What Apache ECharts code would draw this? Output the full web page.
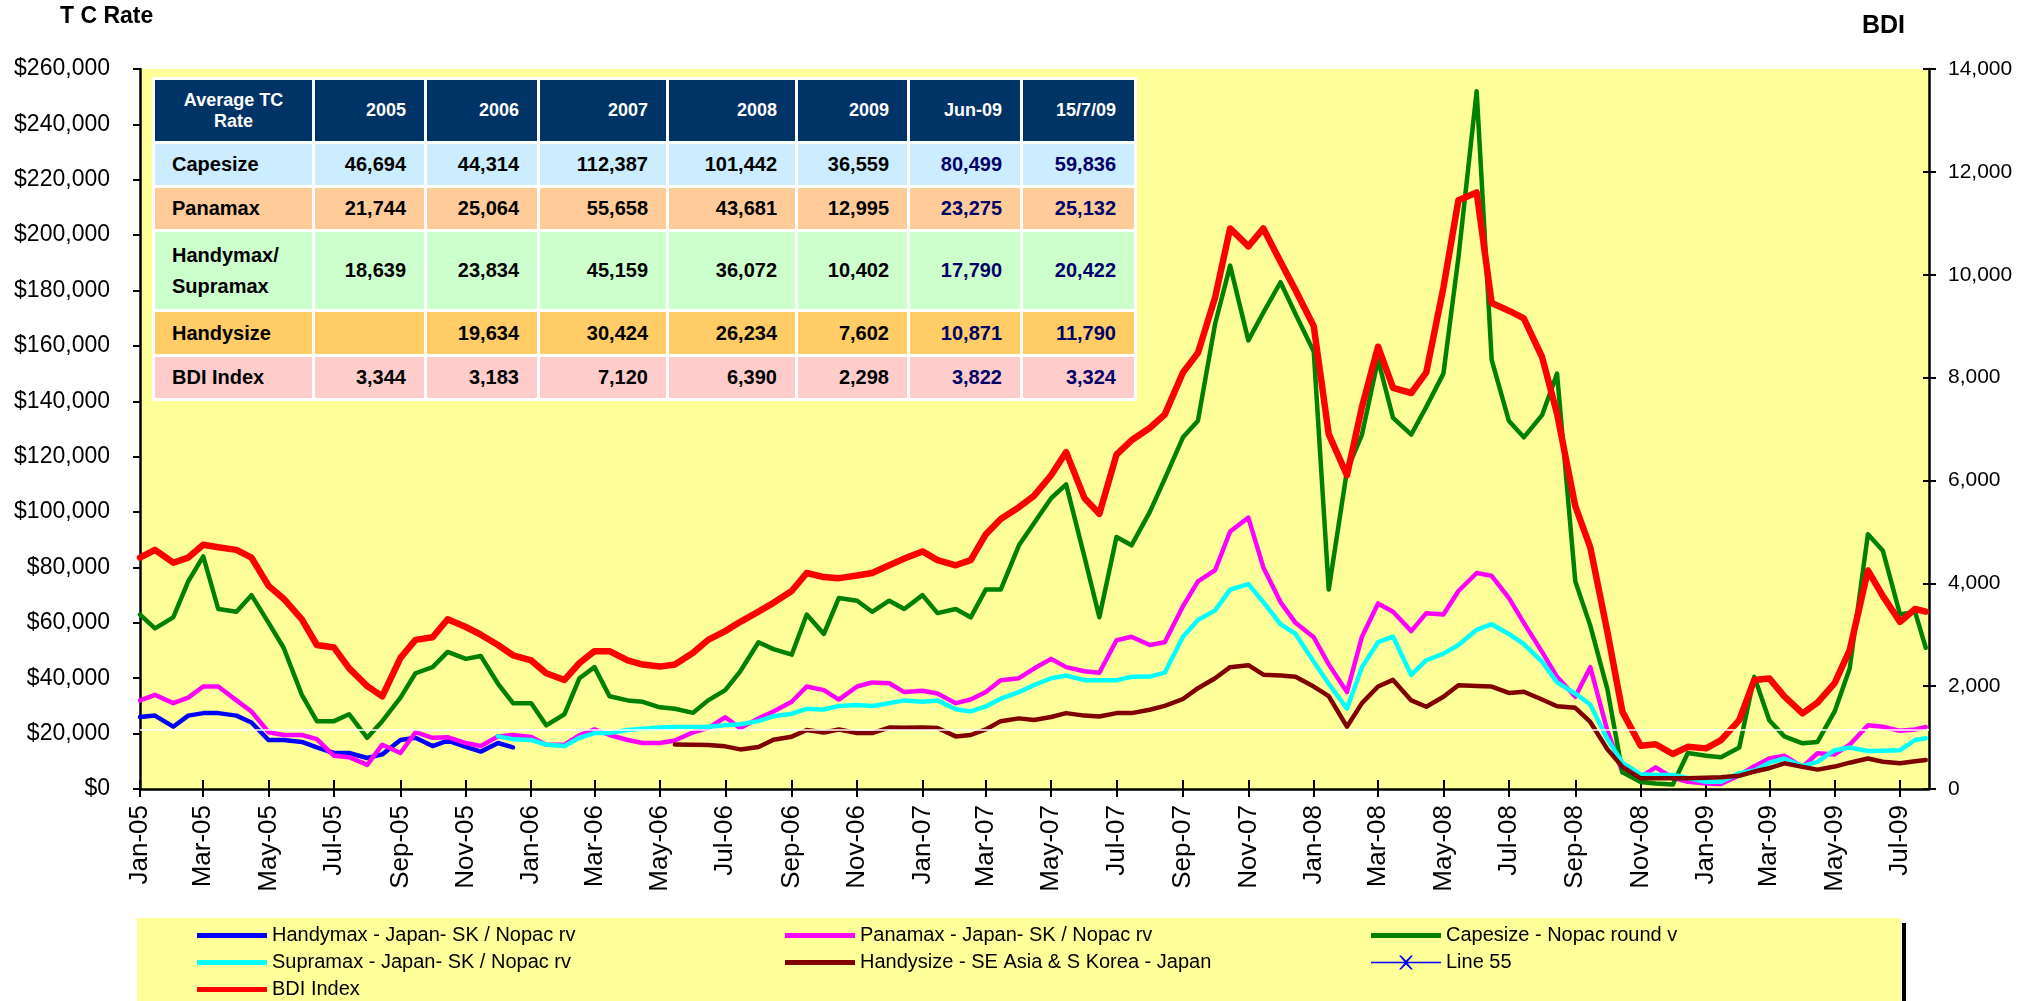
<!DOCTYPE html>
<html>
<head>
<meta charset="utf-8">
<title>TC Rate / BDI</title>
<script src="https://cdn.jsdelivr.net/npm/echarts@6.0.0/dist/echarts.min.js"></script>
<style>
body { margin: 0; background: #fff; }
#wrap { position: relative; width: 2028px; height: 1001px; overflow: hidden; }
#chart { width: 2028px; height: 1001px; }
#avgTable {
  position: absolute; left: 152px; top: 77px; width: 985px;
  border-collapse: separate; border-spacing: 3px; background: #fff;
  table-layout: fixed; font-family: 'Liberation Sans', Arial, sans-serif; font-weight: bold;
}
#avgTable td {
  box-sizing: border-box; padding: 0 18px 0 0; text-align: right;
  font-size: 20px; color: #000; vertical-align: middle; white-space: nowrap;
}
#avgTable tr.head td { background: #003366; color: #fff; font-size: 18px; }
#avgTable td.name { text-align: left; padding: 0 0 0 17px; line-height: 31px; }
#avgTable tr.head td.name { text-align: center; padding: 0; line-height: 21px; }
#avgTable td.recent { color: #000066; }
</style>
</head>
<body>
<div id="wrap">
  <div id="chart"></div>
  <table id="avgTable"></table>
</div>
<script>
// half-month sample dates
const dates = [
  '2005-01-01','2005-01-15','2005-02-01','2005-02-15','2005-03-01','2005-03-15','2005-04-01','2005-04-15',
  '2005-05-01','2005-05-15','2005-06-01','2005-06-15','2005-07-01','2005-07-15','2005-08-01','2005-08-15',
  '2005-09-01','2005-09-15','2005-10-01','2005-10-15','2005-11-01','2005-11-15','2005-12-01','2005-12-15',
  '2006-01-01','2006-01-15','2006-02-01','2006-02-15','2006-03-01','2006-03-15','2006-04-01','2006-04-15',
  '2006-05-01','2006-05-15','2006-06-01','2006-06-15','2006-07-01','2006-07-15','2006-08-01','2006-08-15',
  '2006-09-01','2006-09-15','2006-10-01','2006-10-15','2006-11-01','2006-11-15','2006-12-01','2006-12-15',
  '2007-01-01','2007-01-15','2007-02-01','2007-02-15','2007-03-01','2007-03-15','2007-04-01','2007-04-15',
  '2007-05-01','2007-05-15','2007-06-01','2007-06-15','2007-07-01','2007-07-15','2007-08-01','2007-08-15',
  '2007-09-01','2007-09-15','2007-10-01','2007-10-15','2007-11-01','2007-11-15','2007-12-01','2007-12-15',
  '2008-01-01','2008-01-15','2008-02-01','2008-02-15','2008-03-01','2008-03-15','2008-04-01','2008-04-15',
  '2008-05-01','2008-05-15','2008-06-01','2008-06-15','2008-07-01','2008-07-15','2008-08-01','2008-08-15',
  '2008-09-01','2008-09-15','2008-10-01','2008-10-15','2008-11-01','2008-11-15','2008-12-01','2008-12-15',
  '2009-01-01','2009-01-15','2009-02-01','2009-02-15','2009-03-01','2009-03-15','2009-04-01','2009-04-15',
  '2009-05-01','2009-05-15','2009-06-01','2009-06-15','2009-07-01','2009-07-15','2009-07-25'
];

// Handymax - Japan-SK / Nopac rv (2005 only)
const handymax = [
  26000, 26500, 22500, 26500, 27400, 27400, 26500, 24000, 17670, 17670, 17000, 15000,
  13000, 13000, 11200, 12500, 17700, 18500, 15500, 17500, 15200, 13500, 16600, 15000,
  null, null, null, null, null, null, null, null, null, null, null, null, null, null, null, null, null, null, null, null, null, null, null, null,
  null, null, null, null, null, null, null, null, null, null, null, null, null, null, null, null, null, null, null, null, null, null, null, null,
  null, null, null, null, null, null, null, null, null, null, null, null, null, null, null, null, null, null, null, null, null, null, null, null,
  null, null, null, null, null, null, null, null, null, null, null, null, null, null, null
];

// Panamax - Japan-SK / Nopac rv
const panamax = [
  32000, 34000, 31000, 33000, 37000, 37000, 32000, 28000, 20500, 19500, 19500, 18000,
  12000, 11500, 8700, 16000, 13000, 20500, 18500, 18700, 16600, 15500, 19000, 19500,
  18800, 16000, 16000, 19400, 21500, 19500, 17700, 16600, 16600, 17500, 20500, 22000,
  25900, 22000, 25500, 28000, 31500, 37000, 35700, 32300, 37000, 38500, 38200, 35000,
  35500, 34500, 31000, 32300, 35000, 39300, 40000, 43500, 47000, 44000, 42500, 42000,
  53700, 55000, 52000, 53000, 66000, 75000, 79000, 93000, 98000, 80000, 67500, 60000,
  54800, 45000, 35000, 55000, 67000, 64000, 57000, 63500, 63000, 71500, 78000, 77000,
  69000, 60000, 49500, 40500, 33300, 44000, 21000, 6000, 4400, 7800, 4000, 2600,
  2000, 1800, 5000, 8200, 11000, 12000, 8000, 12900, 12500, 16000, 23000, 22500,
  21000, 21500, 22400
];

// Capesize - Nopac round voyage
const capesize = [
  63000, 58000, 62000, 75000, 84000, 65000, 64000, 70000, 60000, 51000, 34000, 24500,
  24500, 27000, 18500, 24500, 33000, 41800, 44000, 49500, 47000, 48000, 38000, 31000,
  31000, 23000, 27000, 40000, 44000, 33500, 32000, 31500, 29500, 29000, 27500, 32000,
  35700, 42500, 53000, 50500, 48500, 63000, 56000, 69000, 68000, 64000, 68000, 65000,
  70000, 63500, 65000, 62000, 72000, 72000, 88000, 96000, 105000, 110000, 84000, 62000,
  91000, 88000, 100000, 112000, 127000, 133000, 168000, 189000, 162000, 172000, 183000, 171500,
  158000, 72000, 115000, 128000, 155000, 134000, 128000, 138000, 150000, 192000, 252000, 155000,
  133000, 127000, 135000, 150000, 75000, 59000, 36000, 6000, 2500, 2000, 1600, 13000,
  12000, 11500, 15000, 40500, 24800, 19000, 16500, 17000, 28000, 43500, 92000, 86000,
  63000, 64000, 51000
];

// Supramax - Japan-SK / Nopac rv (from Dec-05)
const supramax = [
  null, null, null, null, null, null, null, null, null, null, null, null,
  null, null, null, null, null, null, null, null, null, null, 19000, 18000,
  17700, 16000, 15500, 18500, 20200, 20200, 21300, 21800, 22200, 22400, 22400, 22500,
  23000, 23400, 24500, 26300, 27200, 28900, 28700, 30000, 30300, 30000, 31000, 32000,
  31500, 32000, 28800, 28000, 29800, 32600, 35000, 37500, 40000, 41000, 39300, 39300,
  39300, 40500, 40600, 42000, 55000, 61000, 64500, 72000, 74000, 67500, 59500, 56000,
  46000, 38000, 29000, 44000, 53000, 55000, 41200, 46500, 48900, 52000, 57500, 59500,
  56000, 52300, 46000, 38500, 34500, 30500, 18000, 9500, 5300, 5050, 5050, 4000,
  2630, 2630, 5660, 6700, 9500, 11000, 8300, 9800, 14000, 15000, 13700, 13800,
  14000, 17700, 18300
];

// Handysize - SE Asia & S Korea - Japan (from May-06)
const handysize = [
  null, null, null, null, null, null, null, null, null, null, null, null,
  null, null, null, null, null, null, null, null, null, null, null, null,
  null, null, null, null, null, null, null, null, null, 16100, 16000, 15900,
  15400, 14300, 15200, 17800, 18900, 21300, 20400, 21500, 20200, 20200, 22200, 22100,
  22200, 22000, 19000, 19500, 21500, 24500, 25500, 24900, 26000, 27400, 26500, 26200,
  27400, 27400, 28600, 30000, 32500, 36400, 40000, 44000, 44700, 41300, 41000, 40500,
  37000, 33500, 22500, 31000, 37000, 39400, 32000, 29700, 33300, 37500, 37200, 37000,
  34700, 35100, 32300, 29900, 29300, 24200, 14300, 8000, 3850, 3850, 3850, 3850,
  4100, 4250, 4800, 6300, 7500, 9270, 8000, 7000, 8100, 9500, 11000, 9860,
  9270, 10000, 10460
];

// Baltic Dry Index (right axis)
const bdi = [
  4500, 4650, 4400, 4500, 4750, 4700, 4650, 4500, 3950, 3700, 3300, 2800,
  2750, 2350, 2000, 1800, 2550, 2900, 2950, 3300, 3150, 3000, 2800, 2600,
  2500, 2250, 2120, 2450, 2680, 2680, 2500, 2420, 2380, 2420, 2650, 2900,
  3070, 3250, 3450, 3620, 3850, 4200, 4120, 4100, 4150, 4200, 4350, 4480,
  4620, 4450, 4350, 4450, 4950, 5250, 5480, 5700, 6100, 6550, 5660, 5350,
  6500, 6780, 7020, 7280, 8100, 8480, 9560, 10900, 10550, 10900, 10250, 9700,
  9000, 6900, 6100, 7430, 8600, 7800, 7700, 8100, 9750, 11450, 11600, 9450,
  9300, 9150, 8400, 7300, 5500, 4700, 3050, 1500, 840, 870, 680, 820,
  790, 950, 1340, 2120, 2150, 1800, 1470, 1680, 2060, 2700, 4250, 3750,
  3250, 3500, 3450
];

const line55 = [];   // legend entry only

const refLineValue = 21300;   // thin white line across the plot

const tickDates = [
  '2005-01-01','2005-03-01','2005-05-01','2005-07-01','2005-09-01','2005-11-01',
  '2006-01-01','2006-03-01','2006-05-01','2006-07-01','2006-09-01','2006-11-01',
  '2007-01-01','2007-03-01','2007-05-01','2007-07-01','2007-09-01','2007-11-01',
  '2008-01-01','2008-03-01','2008-05-01','2008-07-01','2008-09-01','2008-11-01',
  '2009-01-01','2009-03-01','2009-05-01','2009-07-01'
];
const tickLabels = [
  'Jan-05','Mar-05','May-05','Jul-05','Sep-05','Nov-05',
  'Jan-06','Mar-06','May-06','Jul-06','Sep-06','Nov-06',
  'Jan-07','Mar-07','May-07','Jul-07','Sep-07','Nov-07',
  'Jan-08','Mar-08','May-08','Jul-08','Sep-08','Nov-08',
  'Jan-09','Mar-09','May-09','Jul-09'
];

// table of averages
const tableCols = ['2005', '2006', '2007', '2008', '2009', 'Jun-09', '15/7/09'];
const tableRows = ['Capesize', 'Panamax', 'Handymax/\nSupramax', 'Handysize', 'BDI Index'];
const capeAvg = [46694, 44314, 112387, 101442, 36559, 80499, 59836];
const panaAvg = [21744, 25064, 55658, 43681, 12995, 23275, 25132];
const handymaxAvg = [18639, 23834, 45159, 36072, 10402, 17790, 20422];
const handysizeAvg = [null, 19634, 30424, 26234, 7602, 10871, 11790];
const bdiAvg = [3344, 3183, 7120, 6390, 2298, 3822, 3324];

// ---- table ----
const rowColors = ['#CCECFF', '#FFCC99', '#CCFFCC', '#FFCC66', '#FFCCCC'];
const rowHeights = [41, 41, 77, 42, 41];
const colWidths = [157, 109, 110, 126, 126, 109, 110, 111];
const tableVals = [capeAvg, panaAvg, handymaxAvg, handysizeAvg, bdiAvg];

let html = '<colgroup>' + colWidths.map(w => `<col style="width:${w}px">`).join('') + '</colgroup>';
html += '<tr class="head" style="height:61px"><td class="name">Average TC<br>Rate</td>' +
  tableCols.map(c => `<td>${c}</td>`).join('') + '</tr>';
tableRows.forEach((name, r) => {
  html += `<tr style="height:${rowHeights[r]}px">`;
  html += `<td class="name" style="background:${rowColors[r]}">${name.replace('\n', '<br>')}</td>`;
  tableVals[r].forEach((v, c) => {
    const cls = c >= 5 ? ' class="recent"' : '';
    const txt = v == null ? '' : v.toLocaleString('en-US');
    html += `<td${cls} style="background:${rowColors[r]}">${txt}</td>`;
  });
  html += '</tr>';
});
document.getElementById('avgTable').innerHTML = html;

// ---- chart ----
const toTime = s => {
  const [y, m, d] = s.split('-').map(Number);
  return new Date(y, m - 1, d).getTime();
};
const times = dates.map(toTime);
const tickTimes = tickDates.map(toTime);
const pairs = arr => times.map((t, i) => [t, arr[i]]);
const xMin = toTime('2005-01-01');
const xMax = toTime('2009-07-28');

const font = "'Liberation Sans', Arial, sans-serif";
const legendBase = {
  orient: 'vertical', top: 925, itemWidth: 70, itemHeight: 5, itemGap: 6,
  padding: 0, selectedMode: false, icon: 'rect',
  textStyle: { fontFamily: font, fontSize: 20, color: '#000', lineHeight: 21 }
};

const lineSeries = (name, data, color, width, axis) => ({
  name: name, type: 'line', yAxisIndex: axis || 0,
  data: pairs(data), symbol: 'none', showSymbol: false, connectNulls: false,
  lineStyle: { color: color, width: width, cap: 'round', join: 'round' },
  itemStyle: { color: color }, emphasis: { disabled: true }
});

const names = {
  handymax: 'Handymax - Japan- SK / Nopac rv',
  panamax: 'Panamax - Japan- SK / Nopac rv',
  cape: 'Capesize - Nopac round v',
  supramax: 'Supramax - Japan- SK / Nopac rv',
  handysize: 'Handysize - SE Asia & S Korea - Japan',
  line55: 'Line 55',
  bdi: 'BDI Index'
};

const handymaxSeries = lineSeries(names.handymax, handymax, '#0000FF', 4.5);
handymaxSeries.markLine = {
  silent: true, symbol: 'none', label: { show: false },
  lineStyle: { color: '#FFFFFF', width: 1.5, type: 'solid' },
  data: [{ yAxis: refLineValue }]
};

// thin line with an x marker, drawn in a 70x14 box
const line55Icon = 'path://M0,6.3L70,6.3L70,7.7L0,7.7Z' +
  'M28,0L30,0L35,5L40,0L42,0L36,7L42,14L40,14L35,9L30,14L28,14L34,7Z';

const chart = echarts.init(document.getElementById('chart'), null, { renderer: 'canvas' });
chart.setOption({
  animation: false,
  backgroundColor: '#FFFFFF',
  title: [
    { text: 'T C Rate', left: 60, top: 5, padding: 0,
      textStyle: { fontFamily: font, fontSize: 23, fontWeight: 'bold', color: '#000' } },
    { text: 'BDI', left: 1862, top: 14, padding: 0,
      textStyle: { fontFamily: font, fontSize: 25, fontWeight: 'bold', color: '#000' } }
  ],
  grid: { left: 140, right: 99, top: 69, bottom: 212, show: true, backgroundColor: '#FFFF99', borderWidth: 0 },
  graphic: [
    { type: 'rect', z: 0, silent: true, shape: { x: 137, y: 918, width: 1764, height: 90 }, style: { fill: '#FFFF99' } },
    { type: 'rect', z: 0, silent: true, shape: { x: 1902, y: 923, width: 4, height: 80 }, style: { fill: '#000' } }
  ],
  legend: [
    Object.assign({}, legendBase, { left: 197, data: [names.handymax, names.supramax, names.bdi] }),
    Object.assign({}, legendBase, { left: 785, data: [names.panamax, names.handysize] }),
    Object.assign({}, legendBase, { left: 1371, data: [names.cape] }),
    Object.assign({}, legendBase, { left: 1371, top: 952, itemHeight: 14, icon: line55Icon, data: [names.line55] })
  ],
  xAxis: [
    {
      type: 'value', min: xMin, max: xMax,
      axisLine: { onZero: false, lineStyle: { color: '#000', width: 2.5 } },
      axisTick: { show: true, length: 8, customValues: tickTimes, lineStyle: { color: '#000', width: 2 } },
      axisLabel: {
        customValues: tickTimes, rotate: 90, margin: 16, fontSize: 26, color: '#000', fontFamily: font,
        hideOverlap: false,
        formatter: v => { const i = tickTimes.indexOf(v); return i >= 0 ? tickLabels[i] : ''; }
      },
      splitLine: { show: false }
    },
    {
      type: 'value', position: 'bottom', offset: 0, min: xMin, max: xMax,
      axisLine: { show: false },
      axisTick: { show: true, inside: true, length: 9, customValues: tickTimes, lineStyle: { color: '#000', width: 2 } },
      axisLabel: { show: false }, splitLine: { show: false }
    }
  ],
  yAxis: [
    {
      type: 'value', position: 'left', min: 0, max: 260000, interval: 20000,
      axisLine: { show: true, onZero: false, lineStyle: { color: '#000', width: 2.5 } },
      axisTick: { show: true, length: 7, lineStyle: { color: '#000', width: 2 } },
      axisLabel: { margin: 30, fontSize: 23, color: '#000', fontFamily: font,
        formatter: v => '$' + v.toLocaleString('en-US') },
      splitLine: { show: false }
    },
    {
      type: 'value', position: 'right', min: 0, max: 14000, interval: 2000,
      axisLine: { show: true, onZero: false, lineStyle: { color: '#000', width: 2.5 } },
      axisTick: { show: true, length: 7, lineStyle: { color: '#000', width: 2 } },
      axisLabel: { margin: 19, fontSize: 21, color: '#000', fontFamily: font },
      splitLine: { show: false }
    },
    {
      type: 'value', position: 'right', offset: 0, min: 0, max: 14000, interval: 2000,
      axisLine: { show: false },
      axisTick: { show: true, inside: true, length: 6, lineStyle: { color: '#000', width: 2 } },
      axisLabel: { show: false }, splitLine: { show: false }
    }
  ],
  series: [
    handymaxSeries,
    lineSeries(names.panamax, panamax, '#FF00FF', 4.5),
    lineSeries(names.cape, capesize, '#008000', 4.5),
    lineSeries(names.supramax, supramax, '#00FFFF', 4.5),
    lineSeries(names.handysize, handysize, '#800000', 4.5),
    {
      name: names.line55, type: 'line', data: line55, symbol: 'none',
      lineStyle: { color: '#0000FF', width: 1.5 }, itemStyle: { color: '#0000FF' }
    },
    lineSeries(names.bdi, bdi, '#FF0000', 6.5, 1)
  ]
});
</script>
</body>
</html>
